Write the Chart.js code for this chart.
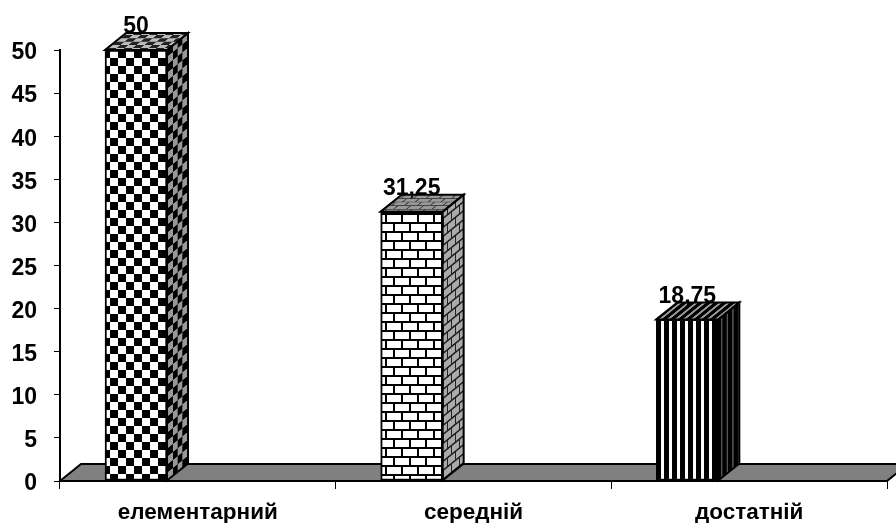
<!DOCTYPE html>
<html><head><meta charset="utf-8">
<style>html,body{margin:0;padding:0;background:#fff}canvas{display:block}</style>
<script src="https://cdn.jsdelivr.net/npm/chart.js@4"></script>
</head><body><canvas id="c" width="896" height="523"></canvas>
<script>
const categories = ["елементарний", "середній", "достатній"];
const values = [50, 31.25, 18.75];
const valueLabels = ["50", "31,25", "18,75"];
const yTicks = [0,5,10,15,20,25,30,35,40,45,50];

const FONT = '"Liberation Sans", Arial, sans-serif';
const DX = 21, DY = 17;

function tile(w, h, draw) {
  const c = document.createElement('canvas'); c.width = w; c.height = h;
  draw(c.getContext('2d'), w, h);
  return c;
}
const ctx0 = document.getElementById('c').getContext('2d');
function pat(t, m) {
  const p = ctx0.createPattern(t, 'repeat');
  if (m) p.setTransform(m);
  return p;
}
function checker(a, b) {
  return tile(16, 16, (g) => {
    g.fillStyle = a; g.fillRect(0,0,16,16);
    g.fillStyle = b; g.fillRect(0,0,8,8); g.fillRect(8,8,8,8);
  });
}
function brick(face, mortar) {
  return tile(32, 18, (g) => {
    g.fillStyle = face; g.fillRect(0,0,32,18);
    g.fillStyle = mortar;
    g.fillRect(0,0,32,2); g.fillRect(0,9,32,2);
    g.fillRect(6,0,2,9); g.fillRect(22,0,2,9);
    g.fillRect(14,9,2,9); g.fillRect(30,9,2,9);
  });
}
function stripes(dark, light, dw) {
  return tile(8, 8, (g) => {
    g.fillStyle = light; g.fillRect(0,0,8,8);
    g.fillStyle = dark; g.fillRect(0,0,dw,8);
  });
}
const frontFills = [
  pat(checker('#fff', '#000'), new DOMMatrix([1,0,0,1,118,50])),
  pat(brick('#fff', '#000'), new DOMMatrix([1,0,0,1,379,213])),
  pat(stripes('#000', '#fff', 5), new DOMMatrix([1,0,0,1,656,0]))
];
const sideFills = [
  pat(checker('#999', '#000'), new DOMMatrix([0.6, -DY/DX*0.6, 0, 1, 0, 0])),
  pat(brick('#aaa', '#222'), new DOMMatrix([0.5, -DY/DX*0.5, 0, 1, 0, 0])),
  pat(stripes('#000', '#555', 6), new DOMMatrix([0.7, 0, 0, 1, 0, 0]))
];
const topFills = [
  pat(checker('#bbb', '#222'), new DOMMatrix([1, 0, -DX/DY*0.4, 0.4, 0, 0])),
  pat(brick('#999', '#444'), new DOMMatrix([0.8, 0, -DX/DY*0.4, 0.4, 0, 0])),
  pat(stripes('#000', '#999', 5), new DOMMatrix([1, 0, -DX/DY, 1, 0, 0]))
];

const solid3d = {
  id: 'solid3d',
  beforeDatasetsDraw(chart) {
    const {ctx, chartArea: a, scales: {y}} = chart;
    const base = y.getPixelForValue(0);
    ctx.save();
    ctx.beginPath();
    ctx.moveTo(a.left, base);
    ctx.lineTo(a.left + DX, base - DY);
    ctx.lineTo(a.right + DX, base - DY);
    ctx.lineTo(a.right, base);
    ctx.closePath();
    ctx.fillStyle = '#808080'; ctx.fill();
    ctx.strokeStyle = '#000'; ctx.lineWidth = 2; ctx.stroke();
    ctx.restore();
  },
  afterDatasetsDraw(chart) {
    const {ctx} = chart;
    const bars = chart.getDatasetMeta(0).data;
    ctx.save();
    ctx.lineWidth = 2; ctx.strokeStyle = '#000'; ctx.lineJoin = 'miter';
    bars.forEach((b, i) => {
      const l = b.x - b.width/2, r = b.x + b.width/2, t = b.y, bot = b.base;
      ctx.beginPath();
      ctx.moveTo(r, t); ctx.lineTo(r+DX, t-DY); ctx.lineTo(r+DX, bot-DY); ctx.lineTo(r, bot); ctx.closePath();
      ctx.fillStyle = sideFills[i]; ctx.fill(); ctx.stroke();
      ctx.beginPath();
      ctx.moveTo(l, t); ctx.lineTo(l+DX, t-DY); ctx.lineTo(r+DX, t-DY); ctx.lineTo(r, t); ctx.closePath();
      ctx.fillStyle = topFills[i]; ctx.fill(); ctx.stroke();
    });
    ctx.fillStyle = '#000';
    ctx.font = 'bold 23px ' + FONT;
    ctx.textAlign = 'center'; ctx.textBaseline = 'middle';
    bars.forEach((b, i) => ctx.fillText(valueLabels[i], b.x, b.y - 23));
    ctx.restore();
  }
};

new Chart(ctx0, {
  type: 'bar',
  data: {
    labels: categories,
    datasets: [{
      data: values.map((v, i) => ({x: i, y: v})),
      xAxisID: 'xb',
      yAxisID: 'y',
      backgroundColor: frontFills,
      borderColor: '#000',
      borderWidth: 2,
      borderSkipped: false,
      barThickness: 62
    }]
  },
  plugins: [solid3d],
  options: {
    responsive: false,
    animation: false,
    layout: {padding: {top: 50, right: 9, left: 0, bottom: 0}},
    plugins: {legend: {display: false}, tooltip: {enabled: false}},
    scales: {
      xb: {type: 'linear', display: false, offset: false, min: -0.2757, max: 2.7243},
      x: {
        type: 'category',
        position: 'bottom',
        offset: true,
        afterFit(s) { s.height = 42; },
        grid: {offset: true, drawOnChartArea: false, tickLength: 8, color: '#000', lineWidth: 1},
        border: {color: '#000', width: 2},
        ticks: {color: '#000', font: {family: FONT, size: 22.5, weight: 'bold'}, padding: 10, maxRotation: 0}
      },
      y: {
        min: 0, max: 50,
        afterFit(s) { s.width = 60; },
        afterBuildTicks(s) { s.ticks = yTicks.map(v => ({value: v})); },
        grid: {drawOnChartArea: false, tickLength: 6, color: '#000', lineWidth: 1},
        border: {color: '#000', width: 2},
        ticks: {color: '#000', font: {family: FONT, size: 23, weight: 'bold'}, padding: 17, labelOffset: 3}
      }
    }
  }
});
</script></body></html>
